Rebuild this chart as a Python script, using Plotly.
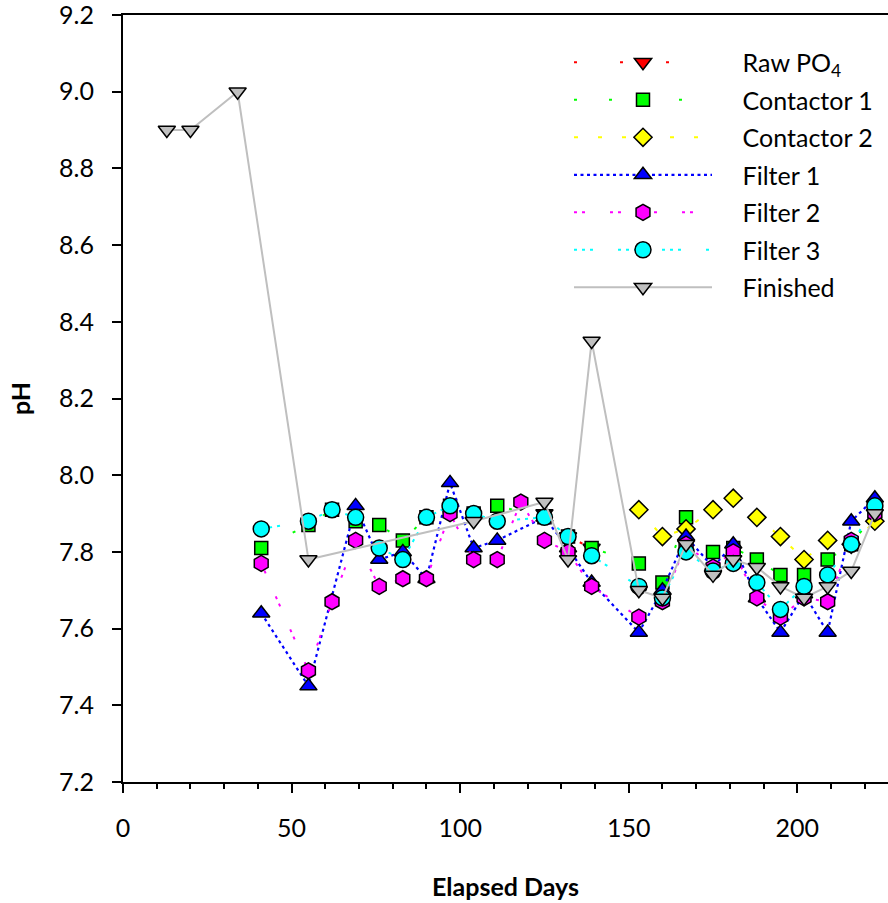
import plotly.graph_objects as go

# ---------------- data ----------------
days = [41, 55, 62, 69, 76, 83, 90, 97, 104, 111, 118, 125, 132, 139,
        153, 160, 167, 175, 181, 188, 195, 202, 209, 216, 223]

raw_po4 =     [None, None, None, None, None, None, None, None, None, None, None, 7.90, 7.84, 7.81,
               None, None, None, None, None, None, None, None, None, None, None]
contactor1 =  [7.81, 7.87, 7.91, 7.88, 7.87, 7.83, 7.89, 7.92, 7.90, 7.92, None, 7.89, 7.84, 7.81,
               7.77, 7.72, 7.89, 7.80, 7.81, 7.78, 7.74, 7.74, 7.78, 7.82, 7.90]
contactor2 =  [None, None, None, None, None, None, None, None, None, None, None, None, None, None,
               7.91, 7.84, 7.86, 7.91, 7.94, 7.89, 7.84, 7.78, 7.83, 7.82, 7.88]
filter1 =     [7.64, 7.45, None, 7.92, 7.78, 7.80, 7.73, 7.98, 7.81, 7.83, None, 7.89, 7.81, 7.72,
               7.59, 7.70, 7.84, 7.76, 7.82, 7.68, 7.59, 7.69, 7.59, 7.88, 7.94]
filter2 =     [7.77, 7.49, 7.67, 7.83, 7.71, 7.73, 7.73, 7.90, 7.78, 7.78, 7.93, 7.83, 7.80, 7.71,
               7.63, 7.67, 7.82, 7.76, 7.80, 7.68, 7.63, 7.68, 7.67, 7.83, 7.90]
filter3 =     [7.86, 7.88, 7.91, 7.89, 7.81, 7.78, 7.89, 7.92, 7.90, 7.88, None, 7.89, 7.84, 7.79,
               7.71, 7.68, 7.80, 7.75, 7.77, 7.72, 7.65, 7.71, 7.74, 7.82, 7.92]

finished_days = [13, 20, 34, 55, 104, 125, 132, 139, 153, 160, 167, 175, 181, 188, 195, 202, 209, 216, 223]
finished =      [8.90, 8.90, 9.00, 7.78, 7.88, 7.93, 7.78, 8.35, 7.70, 7.68, 7.82, 7.74, 7.78, 7.76,
                 7.71, 7.68, 7.71, 7.75, 7.90]

y_ticks = [7.2, 7.4, 7.6, 7.8, 8.0, 8.2, 8.4, 8.6, 8.8, 9.0, 9.2]
y_ticklabels = ["7.2", "7.4", "7.6", "7.8", "8.0", "8.2", "8.4", "8.6", "8.8", "9.0", "9.2"]
x_ticks = [0, 50, 100, 150, 200]

# ---------------- figure ----------------
FONT = "Lato"
outline = dict(color="black", width=1.5)
PAD = "\u00a0" * 4  # gap between legend sample and its label

series = [
    dict(name="Raw PO<sub>4</sub>", x=days, y=raw_po4, color="#FF0000", symbol="triangle-down",
         size=15, dash="3px,43px", lcolor="#FF0000", lw=2),
    dict(name="Contactor 1", x=days, y=contactor1, color="#00FF00", symbol="square",
         size=13, dash="3px,32px", lcolor="#00FF00", lw=2),
    dict(name="Contactor 2", x=days, y=contactor2, color="#FFFF00", symbol="diamond",
         size=14, dash="4px,20px", lcolor="#FFFF00", lw=2),
    dict(name="Filter 1", x=days, y=filter1, color="#0000FF", symbol="triangle-up",
         size=15, dash="3px,3.5px", lcolor="#0000FF", lw=2.2),
    dict(name="Filter 2", x=days, y=filter2, color="#FF00FF", symbol="hexagon",
         size=16, dash="3px,5px,3px,25px", lcolor="#FF00FF", lw=2),
    dict(name="Filter 3", x=days, y=filter3, color="#00FFFF", symbol="circle",
         size=16, dash="3px,5px,3px,5px,3px,25px", lcolor="#00FFFF", lw=2),
    dict(name="Finished", x=finished_days, y=finished, color="#C0C0C0", symbol="triangle-down",
         size=15, dash="solid", lcolor="#BFBFBF", lw=2),
]

fig = go.Figure()
for i, s in enumerate(series):
    fig.add_trace(go.Scatter(
        x=s["x"], y=s["y"], name=PAD + s["name"], mode="lines+markers",
        connectgaps=True, legendgroup=str(i),
        line=dict(color=s["lcolor"], width=s["lw"], dash=s["dash"]),
        marker=dict(symbol=s["symbol"], size=s["size"], color=s["color"], line=outline),
    ))

fig.update_layout(
    width=888, height=903,
    margin=dict(l=123, r=0, t=15, b=121),
    paper_bgcolor="white", plot_bgcolor="white",
    font=dict(family=FONT, size=25, color="black"),
    showlegend=True,
    legend=dict(x=0.583, y=0.968, xanchor="left", yanchor="top",
                bgcolor="rgba(0,0,0,0)", itemwidth=138, tracegroupgap=2,
                font=dict(family=FONT, size=25, color="black")),
    xaxis=dict(range=[0, 226.9], tickvals=x_ticks, showgrid=False, zeroline=False,
               showline=True, linecolor="black", linewidth=2, mirror=True,
               ticks="outside", ticklen=9, tickwidth=2, tickcolor="black",
               ticklabelstandoff=14, automargin=False,
               minor=dict(dtick=10, ticks="outside", ticklen=5, tickwidth=2, tickcolor="black"),
               title=dict(text="<b>Elapsed Days</b>", font=dict(family=FONT, size=25), standoff=37)),
    yaxis=dict(range=[7.1999, 9.2001], tickvals=y_ticks, ticktext=y_ticklabels, showgrid=False,
               zeroline=False, showline=True, linecolor="black", linewidth=2,
               ticks="outside", ticklen=9, tickwidth=2, tickcolor="black",
               ticklabelstandoff=13, ticklabeloverflow="allow", automargin=False,
               title=dict(text="<b>pH</b>", font=dict(family=FONT, size=25), standoff=21)),
)

# remove the default 8px page margin so the figure fills the window exactly
fig.write_html("out.html",
               config={"displayModeBar": False},
               post_script="document.body.style.margin='0';document.body.style.overflow='hidden';")
